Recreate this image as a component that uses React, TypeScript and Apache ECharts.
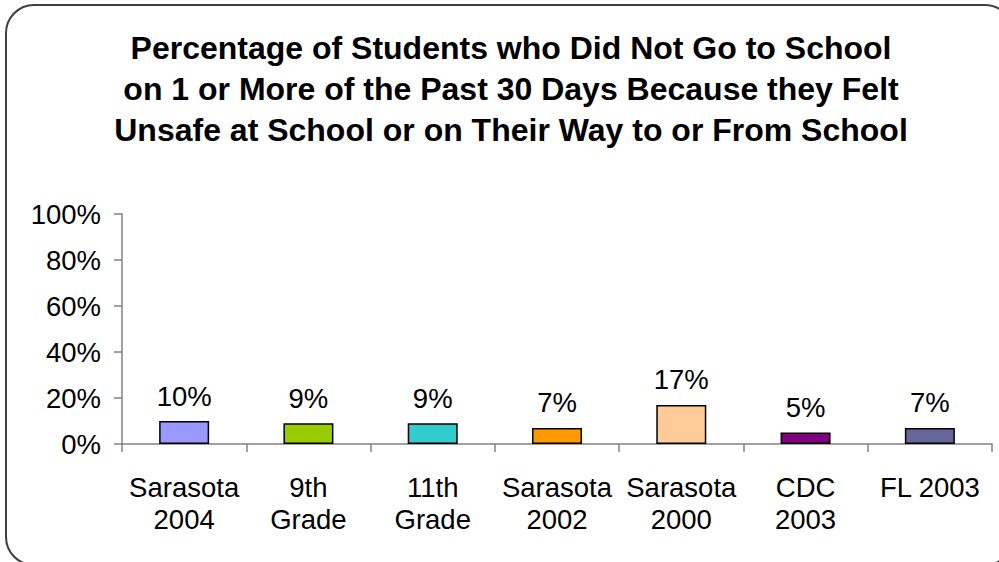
import React, { useEffect, useRef } from "react";
import * as echarts from "echarts";

const categories = ["Sarasota\n2004", "9th\nGrade", "11th\nGrade", "Sarasota\n2002", "Sarasota\n2000", "CDC\n2003", "FL 2003"];
const values = [10, 9, 9, 7, 17, 5, 7];
const barColors = ["#9999FF", "#99CC00", "#33CCCC", "#FF9900", "#FFCC99", "#800080", "#666699"];
const titleText = "Percentage of Students who Did Not Go to School\non 1 or More of the Past 30 Days Because they Felt\nUnsafe at School or on Their Way to or From School";

export default function App() {
  const ref = useRef<HTMLDivElement>(null);
  useEffect(() => {
    if (!ref.current) return;
    const chart = echarts.init(ref.current, undefined, { renderer: "svg" });
    const font = "Liberation Sans, Arial, sans-serif";
    chart.setOption({
      animation: false,
      backgroundColor: "#ffffff",
      title: {
        text: titleText,
        left: 506,
        textAlign: "center",
        top: 22,
        textStyle: {
          fontFamily: font,
          fontSize: 32,
          fontWeight: "bold",
          lineHeight: 41,
          color: "#000",
        },
      },
      graphic: [
        {
          type: "rect",
          shape: { x: 6, y: 5, width: 1007, height: 560, r: 28 },
          style: { fill: "none", stroke: "#404040", lineWidth: 2 },
          silent: true,
        },
      ],
      grid: { left: 122, top: 214, right: 7, bottom: 118, containLabel: false },
      xAxis: {
        type: "category",
        data: categories,
        axisLine: { lineStyle: { color: "#808080", width: 1.5 } },
        axisTick: { show: true, alignWithLabel: false, length: 8, lineStyle: { color: "#808080", width: 1.5 } },
        axisLabel: {
          interval: 0,
          margin: 27,
          fontFamily: font,
          fontSize: 27.5,
          lineHeight: 32,
          color: "#000",
        },
      },
      yAxis: {
        type: "value",
        min: 0,
        max: 100,
        interval: 20,
        splitLine: { show: false },
        axisLine: { show: true, lineStyle: { color: "#808080", width: 1.5 } },
        axisTick: { show: true, length: 8, lineStyle: { color: "#808080", width: 1.5 } },
        axisLabel: {
          formatter: "{value}%",
          margin: 21,
          fontFamily: font,
          fontSize: 27.5,
          color: "#000",
        },
      },
      series: [
        {
          type: "bar",
          barWidth: 50,
          data: values.map((v, i) => ({
            value: v,
            itemStyle: { color: barColors[i], borderColor: "#000", borderWidth: 1.5 },
          })),
          label: {
            show: true,
            position: "top",
            distance: 11,
            formatter: "{c}%",
            fontFamily: font,
            fontSize: 27.5,
            color: "#000",
          },
        },
      ],
    });
    return () => chart.dispose();
  }, []);
  return <div ref={ref} style={{ width: 999, height: 562, position: "absolute", left: 0, top: 0 }} />;
}
